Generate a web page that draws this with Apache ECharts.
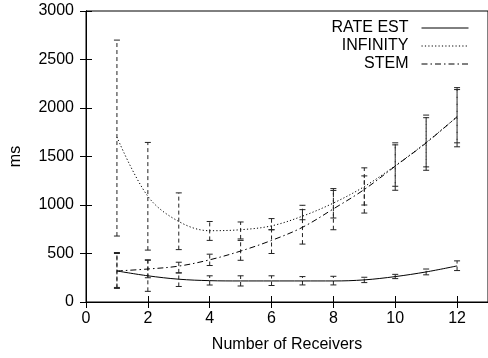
<!DOCTYPE html>
<html>
<head>
<meta charset="utf-8">
<script src="https://cdn.jsdelivr.net/npm/echarts@6/dist/echarts.min.js"></script>
<style>
  html, body { margin: 0; padding: 0; background: #fff; }
  #chart { width: 488px; height: 358px; }
</style>
</head>
<body>
<div id="chart"></div>
<script>
// Receivers on the x axis
const receivers = [1, 2, 3, 4, 5, 6, 7, 8, 9, 10, 11, 12];

// RATE EST: mean delay and error-bar bounds (ms)
const rateMean = [320, 270, 235, 220, 217, 217, 217, 217, 228, 262, 310, 372];
const rateLow  = [140, 110, 160, 175, 165, 170, 176, 176, 200, 241, 280, 324];
const rateHigh = [500, 430, 300, 270, 270, 270, 262, 265, 255, 285, 340, 424];

// INFINITY
const infMean = [1700, 1090, 830, 735, 745, 785, 885, 1020, 1190, 1405, 1645, 1910];
const infLow  = [680, 535, 540, 635, 650, 745, 848, 866, 1000, 1193, 1393, 1641];
const infHigh = [2700, 1645, 1125, 830, 825, 860, 997, 1169, 1300, 1620, 1900, 2190];

// STEM
const stemMean = [320, 340, 370, 435, 525, 635, 770, 960, 1160, 1400, 1640, 1910];
const stemLow  = [150, 250, 300, 376, 430, 500, 597, 745, 917, 1152, 1358, 1600];
const stemHigh = [510, 435, 410, 493, 635, 745, 952, 1150, 1383, 1641, 1927, 2210];

const yTicks = [0, 500, 1000, 1500, 2000, 2500, 3000];

const FONT = 'Liberation Sans, Arial, Helvetica, sans-serif';

function pairs(xs, ys) { return xs.map((x, i) => [x, ys[i]]); }
function bars(xs, lo, hi) { return xs.map((x, i) => [x, lo[i], hi[i]]); }

// vertical error bar with small caps
function errorBarRender(params, api) {
  const x = api.value(0);
  const lo = api.coord([x, api.value(1)]);
  const hi = api.coord([x, api.value(2)]);
  const cap = 3;
  const stroke = { stroke: '#222', lineWidth: 1 };
  return {
    type: 'group',
    children: [
      { type: 'line', shape: { x1: lo[0], y1: lo[1], x2: hi[0], y2: hi[1] },
        style: Object.assign({ lineDash: [4, 3] }, stroke) },
      { type: 'line', shape: { x1: lo[0] - cap, y1: lo[1], x2: lo[0] + cap, y2: lo[1] }, style: stroke },
      { type: 'line', shape: { x1: hi[0] - cap, y1: hi[1], x2: hi[0] + cap, y2: hi[1] }, style: stroke }
    ]
  };
}

const lineSeries = (name, data, dash) => ({
  name: name,
  type: 'line',
  data: data,
  smooth: 0.35,
  symbol: 'none',
  lineStyle: { color: '#000', width: 1, type: dash },
  itemStyle: { color: '#000' },
  z: 3
});

const errSeries = (data) => ({
  type: 'custom',
  renderItem: errorBarRender,
  data: data,
  encode: { x: 0, y: [1, 2] },
  silent: true,
  z: 2
});

const axisText = { color: '#000', fontSize: 16, fontFamily: FONT };

const option = {
  animation: false,
  backgroundColor: '#fff',
  grid: { left: 85, top: 11, width: 404, height: 291, show: true, borderColor: '#000', borderWidth: 1 },
  legend: {
    orient: 'vertical',
    right: 14,
    top: 15,
    align: 'right',
    itemWidth: 47,
    itemHeight: 14,
    itemGap: 2,
    data: ['RATE EST', 'INFINITY', 'STEM'],
    itemStyle: { opacity: 0, borderWidth: 0 },
    lineStyle: { width: 1 },
    textStyle: { color: '#000', fontSize: 16, fontFamily: FONT, padding: [0, 8, 0, 0] }
  },
  xAxis: [
    {
      type: 'value', min: 0, max: 13, interval: 2,
      name: 'Number of Receivers', nameLocation: 'middle', nameGap: 35,
      nameTextStyle: axisText,
      axisLine: { show: true, lineStyle: { color: '#000' } },
      axisTick: { inside: true, length: 6, lineStyle: { color: '#000' } },
      axisLabel: Object.assign({ margin: 9, showMaxLabel: false }, axisText),
      splitLine: { show: false }
    },
    {
      type: 'value', min: 0, max: 13, interval: 2, position: 'top',
      axisLine: { show: true, lineStyle: { color: '#000' } },
      axisTick: { inside: true, length: 6, lineStyle: { color: '#000' } },
      axisLabel: { show: false },
      splitLine: { show: false }
    }
  ],
  yAxis: [
    {
      type: 'value', min: yTicks[0], max: yTicks[yTicks.length - 1], interval: 500,
      name: 'ms', nameLocation: 'middle', nameGap: 62,
      nameTextStyle: axisText,
      axisLine: { show: true, lineStyle: { color: '#000' } },
      axisTick: { inside: true, length: 6, lineStyle: { color: '#000' } },
      axisLabel: Object.assign({ margin: 12, formatter: (v) => String(v) }, axisText),
      splitLine: { show: false }
    },
    {
      type: 'value', min: yTicks[0], max: yTicks[yTicks.length - 1], interval: 500, position: 'right',
      axisLine: { show: true, lineStyle: { color: '#000' } },
      axisTick: { inside: true, length: 6, lineStyle: { color: '#000' } },
      axisLabel: { show: false },
      splitLine: { show: false }
    }
  ],
  series: [
    lineSeries('RATE EST', pairs(receivers, rateMean), 'solid'),
    lineSeries('INFINITY', pairs(receivers, infMean), [1.2, 2.2]),
    lineSeries('STEM', pairs(receivers, stemMean), [6, 3, 1.5, 3]),
    errSeries(bars(receivers, rateLow, rateHigh)),
    errSeries(bars(receivers, infLow, infHigh)),
    errSeries(bars(receivers, stemLow, stemHigh))
  ]
};

const chart = echarts.init(document.getElementById('chart'), null, { renderer: 'canvas' });
chart.setOption(option);
</script>
</body>
</html>
